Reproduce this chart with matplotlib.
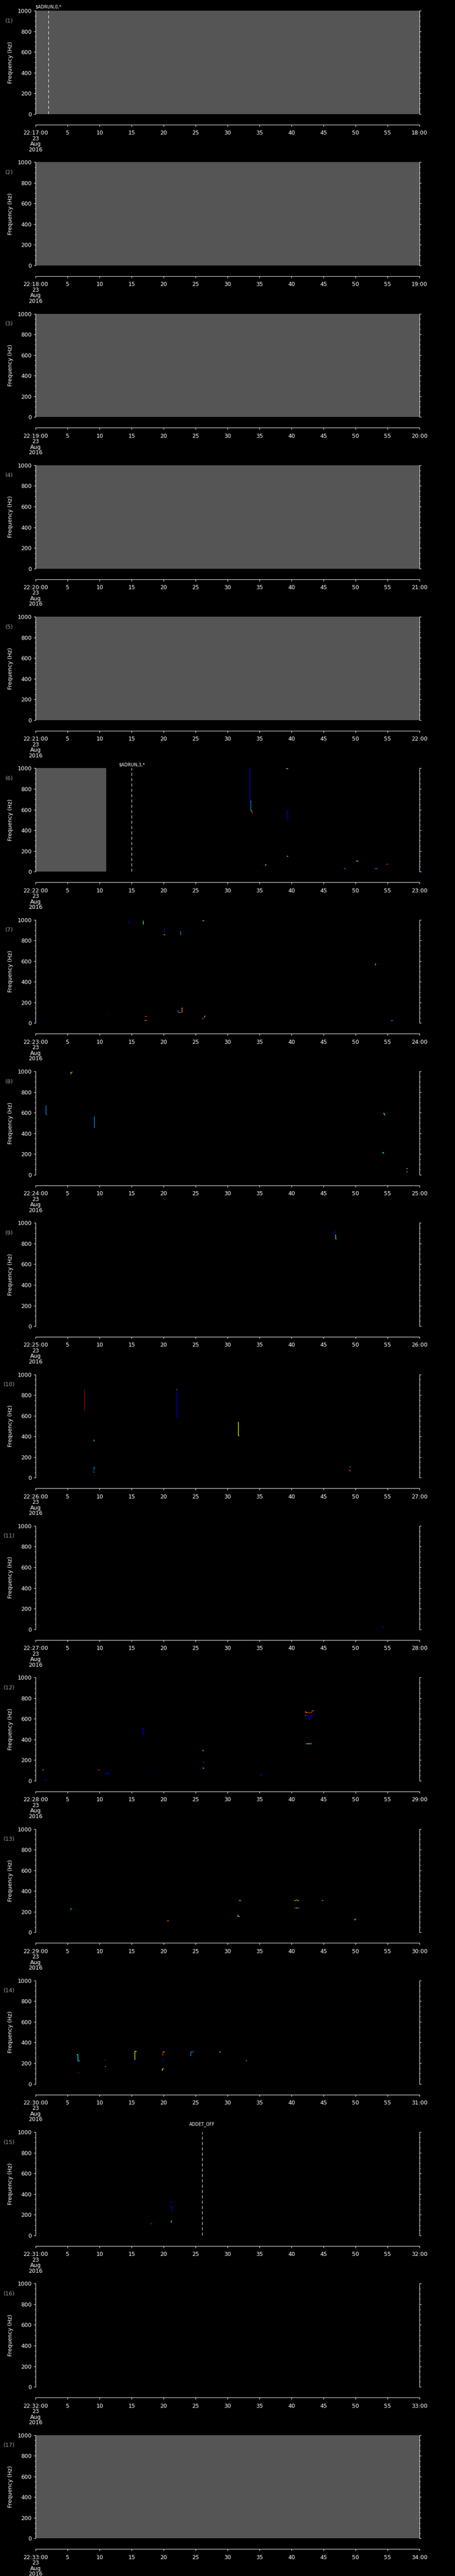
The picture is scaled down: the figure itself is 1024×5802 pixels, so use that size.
import matplotlib
matplotlib.use("Agg")
import matplotlib.pyplot as plt

# one panel per minute, 22:17 .. 22:33 on 23 Aug 2016
panel_minutes = list(range(17, 34))
# gray "no data" span per panel, in seconds from the panel start (0 = none)
gray_end = [60, 60, 60, 60, 60, 11, 0, 0, 0, 0, 0, 0, 0, 0, 0, 0, 60]

# event markers: panel number, second, label, label height above plot (px)
event_panel = [1, 6, 15]
event_sec = [2, 15, 26]
event_label = ["$ADRUN,0,*", "$ADRUN,3,*", "ADDET_OFF"]
event_lift = [8.5, 8, 18]

# colour levels (jet colormap)
B, LB, C, G, Y, O, R, DR = 0.1, 0.27, 0.38, 0.5, 0.64, 0.76, 0.88, 0.97

# tracks: (seconds, frequency Hz, colour level)
tracks_06 = [
    ([33.45, 33.45], [1000, 686], B),
    ([33.45, 33.6, 33.6], [686, 686, 589], LB),
    ([33.6, 33.8], [589, 589], G),
    ([33.8, 33.8, 33.9], [589, 567, 567], R),
    ([38.95, 39.15], [999, 999], B),
    ([39.15, 39.45], [999, 999], Y),
    ([39.2, 39.35, 39.35, 39.45], [589, 589, 507, 507], B),
    ([39.25, 39.45], [150, 150], Y),
    ([35.8, 35.9, 35.9, 36.05], [63, 63, 69, 69], C),
    ([48.2, 48.45], [30, 30], LB),
    ([50.1, 50.4], [104, 104], G),
    ([52.95, 53.4], [30, 30], LB),
    ([54.8, 54.9, 54.9, 55.0], [69, 69, 77, 77], R),
    ([60.6, 60.75], [34, 34], B),
]
tracks_07 = [
    ([14.6, 14.6, 14.7], [994, 973, 973], B),
    ([16.8, 16.8], [994, 954], 0.45),
    ([26.0, 26.3], [995, 995], C),
    ([20.05, 20.15, 20.25], [882, 898, 914], B),
    ([20.0, 20.2], [856, 856], Y),
    ([22.6, 22.6, 22.7], [890, 856, 856], LB),
    ([53.1, 53.1, 53.2], [577, 567, 561], C),
    ([22.2, 22.2, 22.35], [131, 109, 109], LB),
    ([22.35, 22.6], [106, 106], O),
    ([22.6, 22.75, 22.75], [103, 103, 99], B),
    ([22.85, 22.85, 22.95], [99, 147, 147], O),
    ([11.2, 11.45], [88, 88], B),
    ([17.0, 17.4], [67, 67], R),
    ([17.0, 17.2], [29, 29], G),
    ([17.2, 17.4], [29, 29], R),
    ([26.0, 26.2], [45, 45], Y),
    ([26.3, 26.4, 26.4, 26.5], [56, 56, 72, 72], O),
    ([0.55, 0.7], [32, 32], B),
    ([55.5, 55.8], [27, 27], LB),
]
tracks_08 = [
    ([5.5, 5.5, 5.65], [976, 990, 990], G),
    ([5.65, 5.8], [993, 997], R),
    ([1.6, 1.6], [675, 590], LB),
    ([1.6, 1.7], [585, 585], G),
    ([9.15, 9.15], [568, 455], LB),
    ([9.15, 9.25], [450, 450], B),
    ([23.1, 23.2], [133, 133], B),
    ([54.4, 54.4, 54.5, 54.5], [600, 592, 592, 576], C),
    ([54.15, 54.3, 54.3, 54.45], [219, 219, 210, 210], C),
    ([57.9, 58.15], [59, 59], G),
    ([57.9, 58.15], [29, 29], C),
]
tracks_09 = [
    ([46.7, 46.8, 46.8], [926, 926, 886], B),
    ([46.8, 46.9, 46.9, 47.0], [886, 886, 845, 845], C),
]
tracks_10 = [
    ([7.6, 7.6, 7.5], [856, 656, 656], DR),
    ([7.6, 7.7], [856, 856], B),
    ([22.1, 22.1], [852, 581], B),
    ([21.95, 22.1], [856, 856], O),
    ([31.65, 31.65, 31.8], [544, 408, 408], Y),
    ([9.05, 9.05, 9.15], [373, 360, 360], C),
    ([9.0, 9.1, 9.1, 9.2], [80, 80, 104, 104], LB),
    ([8.95, 9.15], [59, 59], O),
    ([8.95, 9.15], [29, 29], B),
    ([49.05, 49.15, 49.15], [109, 109, 101], LB),
    ([48.95, 49.1, 49.1, 49.2], [77, 77, 64, 64], R),
]
tracks_11 = [
    ([54.2, 54.25, 54.25, 54.35], [32, 32, 19, 19], B),
]
tracks_12 = [
    ([42.1, 42.2, 42.2, 42.5], [670, 670, 661, 661], O),
    ([42.5, 43.1, 43.1], [661, 661, 668], R),
    ([43.1, 43.45], [677, 677], O),
    ([42.1, 42.25], [637, 637], C),
    ([42.25, 42.55, 42.8, 43.0, 43.3], [637, 632, 592, 625, 635], B),
    ([16.95, 16.75, 16.75, 16.9], [508, 508, 450, 450], B),
    ([42.2, 43.1], [360, 360], C),
    ([26.0, 26.15, 26.15], [290, 290, 301], C),
    ([26.15, 26.3], [179, 179], LB),
    ([25.9, 26.05, 26.05], [136, 136, 126], B),
    ([26.1, 26.3], [126, 126], Y),
    ([0.95, 1.1], [106, 106], R),
    ([1.1, 1.2], [106, 106], G),
    ([9.65, 9.85, 9.85, 9.95], [109, 109, 106, 106], R),
    ([10.8, 11.0, 11.0, 11.5], [69, 69, 77, 77], B),
    ([5.35, 5.5], [51, 51], B),
    ([18.05, 18.2], [59, 59], B),
    ([35.0, 35.4], [59, 59], B),
    ([1.35, 1.7], [10, 10], B),
]
tracks_13 = [
    ([5.3, 5.45, 5.45, 5.7], [221, 221, 235, 235], LB),
    ([20.5, 20.6], [114, 114], R),
    ([20.6, 20.75], [114, 114], Y),
    ([31.6, 31.6, 31.85], [175, 155, 155], G),
    ([31.75, 32.05], [311, 311], C),
    ([40.4, 40.6], [311, 311], G),
    ([40.6, 40.9], [316, 316], O),
    ([40.9, 41.1], [311, 311], Y),
    ([40.4, 40.6], [236, 236], R),
    ([40.6, 40.9], [236, 236], C),
    ([40.9, 41.2], [236, 236], LB),
    ([44.75, 44.9], [311, 311], C),
    ([49.85, 49.85, 50.1], [115, 131, 131], C),
]
tracks_14 = [
    ([6.4, 6.6, 6.6], [288, 288, 221], C),
    ([6.6, 6.8, 6.8], [221, 221, 235], LB),
    ([10.8, 10.9], [235, 235], C),
    ([10.8, 10.95], [171, 171], Y),
    ([10.95, 11.05], [171, 171], B),
    ([6.6, 6.75], [110, 110], R),
    ([15.3, 15.45, 15.45], [219, 235, 235], B),
    ([15.5, 15.5, 15.75], [235, 317, 317], Y),
    ([19.85, 19.85, 19.95], [272, 312, 312], R),
    ([19.95, 20.1], [312, 312], Y),
    ([19.8, 19.95, 20.1], [216, 232, 243], B),
    ([19.7, 19.75, 19.75, 20.0], [133, 133, 149, 149], Y),
    ([24.1, 24.25, 24.25, 24.7], [277, 277, 312, 312], LB),
    ([28.7, 28.8, 28.8], [312, 312, 302], G),
    ([28.8, 28.95], [302, 302], B),
    ([32.85, 33.0], [225, 225], Y),
]
tracks_15 = [
    ([20.95, 21.3], [321, 321], B),
    ([20.9, 21.25, 21.3, 21.3], [284, 284, 284, 237], B),
    ([21.1, 21.2, 21.2, 21.3], [129, 129, 139, 139], C),
    ([17.9, 18.1], [114, 114], R),
]
panel_tracks = {6: tracks_06, 7: tracks_07, 8: tracks_08, 9: tracks_09,
                10: tracks_10, 11: tracks_11, 12: tracks_12, 13: tracks_13,
                14: tracks_14, 15: tracks_15}

W, H = 1024, 5802
slot = H / 17.0
left_px, right_px = 80.3, 944.0
top_off, plot_h = 24.0, 232.7

fig = plt.figure(figsize=(W / 100, H / 100), dpi=100, facecolor="black")
jet = matplotlib.colormaps["jet"]

for i, minute in enumerate(panel_minutes):
    n = i + 1
    s0 = i * slot
    ax = fig.add_axes([left_px / W, 1 - (s0 + top_off + plot_h) / H,
                       (right_px - left_px) / W, plot_h / H])
    ax.set_facecolor("black")
    ax.set_xlim(0, 60)
    ax.set_ylim(0, 1000)

    if gray_end[i] > 0:
        ax.axvspan(0, gray_end[i], color="#555555", lw=0)

    for t, f, lev in panel_tracks.get(n, []):
        ax.plot(t, f, color=jet(lev), lw=1.0, clip_on=False,
                solid_capstyle="butt")

    for p, sec, lab, lift in zip(event_panel, event_sec, event_label, event_lift):
        if p == n:
            ax.plot([sec, sec], [0, 1000], color="white", lw=0.72,
                    dashes=(7, 5))
            ax.annotate(lab, xy=(sec, 1000), xytext=(0, lift * 0.72),
                        textcoords="offset points", ha="center", va="center",
                        fontsize=7, color="white", annotation_clip=False)

    # axes styling
    ax.spines["top"].set_visible(False)
    for side in ("left", "right", "bottom"):
        ax.spines[side].set_color("white")
        ax.spines[side].set_linewidth(0.72)
    ax.spines["bottom"].set_position(("outward", 17.3))

    ax.set_yticks(range(0, 1001, 200))
    ax.set_yticks(range(0, 1001, 50), minor=True)
    ax.tick_params(axis="y", which="both", direction="out", left=True,
                   right=True, labelright=False, colors="white",
                   labelsize=9, width=0.72, pad=3.6)
    ax.tick_params(axis="y", which="major", length=2.9)
    ax.tick_params(axis="y", which="minor", length=1.7)

    xt = list(range(0, 61, 5))
    xl = ["22:%02d:00\n23\nAug\n2016" % minute] + [str(v) for v in xt[1:-1]] + \
         ["%02d:00" % (minute + 1)]
    ax.set_xticks(xt)
    ax.set_xticklabels(xl, linespacing=0.95)
    ax.tick_params(axis="x", which="both", direction="out", colors="white",
                   labelsize=9, length=2.9, width=0.72, pad=6)

    ax.set_ylabel("Frequency (Hz)", color="white", fontsize=9)
    ax.yaxis.set_label_coords(-0.058, 0.5)

    fig.text(21 / W, 1 - (s0 + 47) / H, "(%d)" % n, color="#9a9a9a",
             fontsize=9, ha="center", va="center")

fig.savefig("out.png", dpi=100, facecolor="black")
